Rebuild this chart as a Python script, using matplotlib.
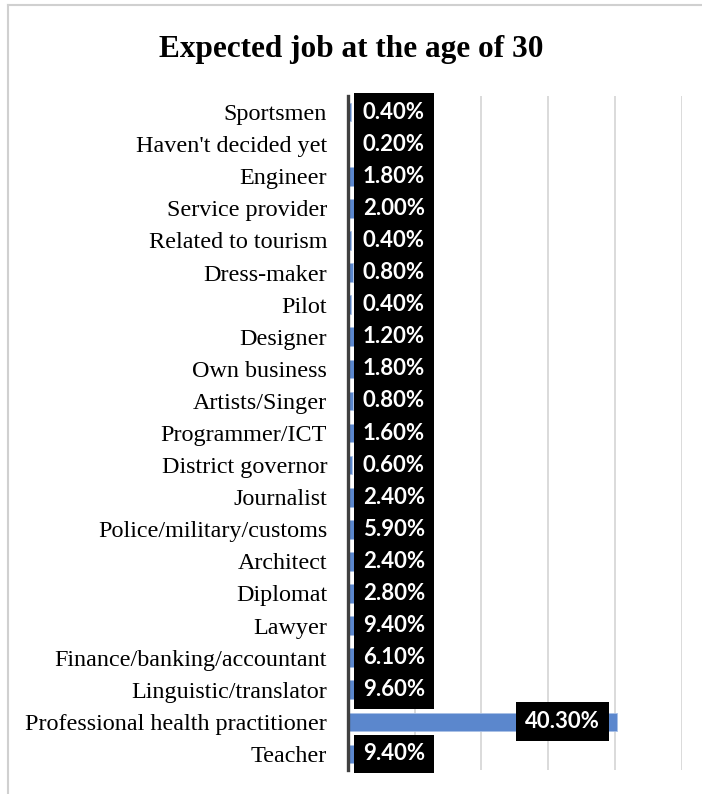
import matplotlib
matplotlib.use("Agg")
import matplotlib.pyplot as plt
from matplotlib.lines import Line2D

# Verilerin sırası alttan üste (Teacher en altta)
jobs = [
    "Teacher", "Professional health practitioner", "Linguistic/translator",
    "Finance/banking/accountant", "Lawyer", "Diplomat", "Architect",
    "Police/military/customs", "Journalist", "District governor",
    "Programmer/ICT", "Artists/Singer", "Own business", "Designer", "Pilot",
    "Dress-maker", "Related to tourism", "Service provider", "Engineer",
    "Haven't decided yet", "Sportsmen",
]
shares = [9.4, 40.3, 9.6, 6.1, 9.4, 2.8, 2.4, 5.9, 2.4, 0.6,
          1.6, 0.8, 1.8, 1.2, 0.4, 0.8, 0.4, 2.0, 1.8, 0.2, 0.4]
grid_ticks = [0, 10, 20, 30, 40, 50]

fig = plt.figure(figsize=(7.02, 7.94), dpi=100)
ax = fig.add_axes([0.4957, 0.0302, 0.4751, 0.8489])

ypos = list(range(len(jobs)))
ax.barh(ypos, shares, height=0.58, color="#5b87cd", edgecolor="#a9c0e6",
        linewidth=0.6, zorder=2)

ax.set_xlim(0, 50)
ax.set_ylim(-0.5, len(jobs) - 0.5)
ax.set_xticks(grid_ticks)
ax.set_xticklabels([])
ax.tick_params(axis="x", length=0)
ax.grid(axis="x", color="#d4d4d4", linewidth=1.2, zorder=0)
ax.set_axisbelow(True)

ax.set_yticks(ypos)
ax.set_yticklabels(jobs, fontfamily="Liberation Serif", fontsize=17.4)
ax.tick_params(axis="y", length=0, pad=15)

for side in ["top", "right", "bottom"]:
    ax.spines[side].set_visible(False)
ax.spines["left"].set_color("#404040")
ax.spines["left"].set_linewidth(2.4)
ax.spines["left"].set_zorder(4)

# Etiketler: siyah kutu, beyaz kalın yazı
box = dict(boxstyle="square,pad=0.4", facecolor="black", edgecolor="none")
for y, v in zip(ypos, shares):
    if v > 20:
        ax.annotate(f"{v:.2f}%", xy=(v, y), xytext=(-12, 0),
                    textcoords="offset points", ha="right", va="center",
                    color="white", fontweight="bold", fontsize=16,
                    fontfamily="Lato", bbox=box, zorder=5)
    else:
        ax.annotate(f"{v:.2f}%", xy=(0, y), xytext=(10.8, 0),
                    textcoords="offset points", ha="left", va="center",
                    color="white", fontweight="bold", fontsize=16,
                    fontfamily="Lato", bbox=box, zorder=5)

fig.text(0.5, 0.938, "Expected job at the age of 30", ha="center", va="center",
         fontfamily="Liberation Serif", fontweight="bold", fontsize=22.5)

# Çerçeve (sadece üst ve sol kenar görünür)
fig.add_artist(Line2D([8 / 702, 1], [1 - 5 / 794, 1 - 5 / 794],
                      color="#d0d0d0", linewidth=1.5))
fig.add_artist(Line2D([8 / 702, 8 / 702], [0, 1 - 5 / 794],
                      color="#d0d0d0", linewidth=1.5))

fig.savefig("out.png", dpi=100)
